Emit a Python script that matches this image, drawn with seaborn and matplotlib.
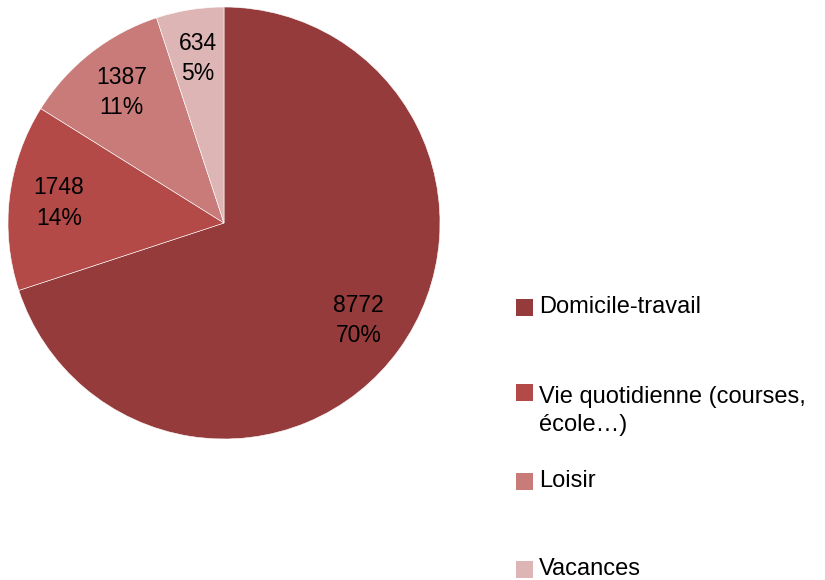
import matplotlib
matplotlib.use("Agg")
import matplotlib.pyplot as plt
import seaborn as sns
from matplotlib.patches import Rectangle

# données
categories = ["Domicile-travail", "Vie quotidienne (courses,\nécole…)", "Loisir", "Vacances"]
valeurs = [8772, 1748, 1387, 634]
couleurs = ["#953B3B", "#B34A48", "#C97B7A", "#DEB5B5"]

sns.set_theme(style="white")
plt.rcParams["font.family"] = ["Liberation Sans", "DejaVu Sans"]
plt.rcParams["text.color"] = "black"

fig = plt.figure(figsize=(8.25, 5.8), dpi=100)
ax = fig.add_axes([8 / 825, 141 / 580, 432 / 825, 432 / 580])

total = sum(valeurs)

def etiquette(pct):
    v = int(round(pct * total / 100))
    return f"{v}\n{pct:.0f}%"

# étiquettes au centre des parts
wedges, texts, autotexts = ax.pie(
    valeurs,
    colors=couleurs,
    startangle=90,
    counterclock=False,
    autopct=etiquette,
    pctdistance=0.77,
    wedgeprops=dict(edgecolor="white", linewidth=0.4),
    textprops=dict(fontsize=16.5, color="black", linespacing=1.4),
)
ax.set_xlim(-1, 1)
ax.set_ylim(-1, 1)
ax.set_aspect("equal")
ax.axis("off")

# légende à la main (espacement irrégulier comme l'original)
leg_y = [307, 392, 481, 569]
for lab, col, y in zip(categories, couleurs, leg_y):
    fig.patches.append(Rectangle((516 / 825, 1 - (y + 8.5) / 580), 17 / 825, 17 / 580,
                                 transform=fig.transFigure, facecolor=col, edgecolor="none"))
    yt = y + 19 if "\n" in lab else y
    fig.text(539 / 825, 1 - yt / 580, lab, ha="left", va="center",
             fontsize=17, linespacing=1.35, color="black",
             transform=fig.transFigure)

fig.savefig("out.png", dpi=100)
